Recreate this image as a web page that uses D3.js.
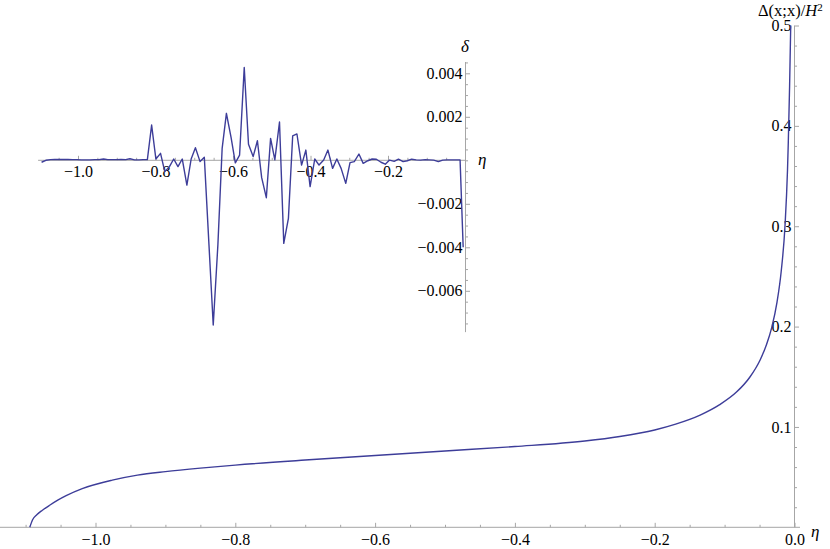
<!DOCTYPE html>
<html>
<head>
<meta charset="utf-8">
<script src="https://cdn.jsdelivr.net/npm/d3@7"></script>
<style>
  html, body { margin: 0; padding: 0; background: #fff; }
  svg { display: block; }
  text { font-family: "Liberation Serif", "Times New Roman", serif; fill: #000; }
</style>
</head>
<body>
<svg id="chart" width="830" height="549"></svg>
<script>
// ---------------- DATA ----------------
// Main curve: Δ(x;x)/H² vs η
const mainEta = [-1.094, -1.090, -1.084, -1.076, -1.065, -1.054, -1.042, -1.019, -0.976, -0.940, -0.900, -0.850, -0.800, -0.700, -0.600, -0.500, -0.400, -0.300, -0.250, -0.200, -0.170, -0.135, -0.107, -0.083, -0.064, -0.049, -0.040, -0.0326, -0.025, -0.019, -0.0136, -0.0100, -0.0089, -0.0070, -0.0054];
const mainVal = [0.000, 0.0075, 0.0125, 0.0170, 0.0222, 0.0270, 0.0315, 0.0385, 0.0470, 0.0520, 0.0555, 0.0590, 0.0620, 0.0670, 0.0715, 0.0760, 0.0805, 0.0860, 0.0905, 0.0970, 0.1028, 0.1118, 0.1222, 0.1347, 0.1495, 0.1670, 0.1821, 0.1990, 0.2244, 0.2551, 0.3003, 0.3560, 0.3830, 0.4400, 0.5000];

// Inset: δ vs η
const insetEta = [
  -1.094, -1.083, -1.071, -1.060, -1.048, -1.037, -1.026, -1.014, -1.003, -0.991,
  -0.980, -0.969, -0.957, -0.946, -0.934, -0.923, -0.911, -0.900, -0.889, -0.877,
  -0.866, -0.854, -0.843, -0.832, -0.821,
  -0.810, -0.799, -0.787, -0.776, -0.764, -0.753, -0.742, -0.731, -0.719, -0.708,
  -0.697, -0.685, -0.674, -0.662, -0.651, -0.639, -0.628, -0.617, -0.605, -0.594,
  -0.583, -0.571, -0.560, -0.548, -0.537, -0.526, -0.514, -0.503, -0.492, -0.480,
  -0.469, -0.457, -0.446, -0.435, -0.423, -0.412, -0.401, -0.389, -0.378, -0.366,
  -0.355, -0.343, -0.332, -0.321, -0.309, -0.298, -0.287, -0.275, -0.264, -0.252,
  -0.241, -0.230, -0.218, -0.207, -0.196, -0.184, -0.173, -0.161, -0.150, -0.139,
  -0.127, -0.116, -0.104, -0.093, -0.082, -0.070, -0.059, -0.048, -0.036, -0.025,
  -0.014, -0.006
];
const insetDelta = [
  -0.00009, 0.00000, 0.00003, 0.00004, 0.00004, 0.00004, 0.00004, 0.00003, 0.00003, 0.00002,
  0.00002, 0.00002, 0.00003, 0.00003, 0.00006, 0.00003, 0.00003, 0.00003, 0.00004, 0.00003,
  0.00007, 0.00002, 0.00002, 0.00003, 0.00003,
  0.00162, 0.00006, 0.00032, -0.00052, -0.00029, 0.00006, -0.00029, 0.00006, -0.00114, 0.00006,
  0.00058, -0.00006, 0.00014, -0.00389, -0.00757, -0.00389, 0.00055, 0.00216, 0.00105, -0.00012,
  0.00024, 0.00427, 0.00074, 0.00017, 0.00090, -0.00080, -0.00172, 0.00101, 0.00002, 0.00176,
  -0.00382, -0.00267, 0.00112, 0.00121, -0.00022, 0.00047, -0.00121, 0.00006, -0.00022, 0.00001,
  0.00047, -0.00037, 0.00006, -0.00037, -0.00106, -0.00011, -0.00006, 0.00029, -0.00014, -0.00002,
  0.00006, 0.00005, -0.00009, -0.00018, 0.00001, -0.00005, 0.00005, -0.00006, -0.00002, 0.00005,
  0.00002, 0.00001, 0.00003, 0.00002, 0.00001, -0.00006, 0.00001, 0.00002, 0.00002, 0.00002,
  0.00002, -0.00400
];

// Tick values / labels
const mainXMajor = [-1.0, -0.8, -0.6, -0.4, -0.2, 0.0];
const mainXLabels = ["−1.0", "−0.8", "−0.6", "−0.4", "−0.2", "0.0"];
const mainXMinor = [-1.1, -1.05, -0.95, -0.9, -0.85, -0.75, -0.7, -0.65, -0.55, -0.5, -0.45, -0.35, -0.3, -0.25, -0.15, -0.1, -0.05];
const mainYMajor = [0.1, 0.2, 0.3, 0.4, 0.5];
const mainYLabels = ["0.1", "0.2", "0.3", "0.4", "0.5"];
const mainYMinor = [0.02, 0.04, 0.06, 0.08, 0.12, 0.14, 0.16, 0.18, 0.22, 0.24, 0.26, 0.28, 0.32, 0.34, 0.36, 0.38, 0.42, 0.44, 0.46, 0.48];

const insetXMajor = [-1.0, -0.8, -0.6, -0.4, -0.2];
const insetXLabels = ["−1.0", "−0.8", "−0.6", "−0.4", "−0.2"];
const insetXMinor = [-1.05, -0.95, -0.9, -0.85, -0.75, -0.7, -0.65, -0.55, -0.5, -0.45, -0.35, -0.3, -0.25, -0.15, -0.1, -0.05];
const insetYMajor = [0.004, 0.002, -0.002, -0.004, -0.006];
const insetYLabels = ["0.004", "0.002", "−0.002", "−0.004", "−0.006"];
const insetYMinor = [0.0045, 0.0035, 0.003, 0.0025, 0.0015, 0.001, 0.0005, 0, -0.0005, -0.001, -0.0015, -0.0025, -0.003, -0.0035, -0.0045, -0.005, -0.0055, -0.0065, -0.007, -0.0075];

// ---------------- DRAW ----------------
const svg = d3.select("#chart");
const lineColor = "#3d3d99";
const axisColor = "#a6a6a6";
const fontSize = 16;
const serif = '"Liberation Serif", "Times New Roman", serif';

// Main scales
const x = d3.scaleLinear().domain([-1, 0]).range([95.5, 794.5]);
const y = d3.scaleLinear().domain([0, 0.5]).range([527.3, 25.5]);

// Inset scales
const xi = d3.scaleLinear().domain([-1, 0]).range([78, 465.5]);
const yi = d3.scaleLinear().domain([0.004, -0.004]).range([73.3, 247.3]);

function styleAxis(g) {
  g.attr("font-family", serif).attr("font-size", fontSize);
  g.selectAll("path.domain").remove();
  g.selectAll(".tick line").attr("stroke", axisColor).attr("stroke-width", 1);
  g.selectAll(".tick text").style("font-size", fontSize + "px").attr("fill", "#000").style("font-family", serif);
}

// ---- Main axes ----
const mainAxisY0 = y(0);
svg.append("line").attr("x1", 0).attr("x2", 800).attr("y1", mainAxisY0).attr("y2", mainAxisY0)
  .attr("stroke", axisColor).attr("stroke-width", 1);
svg.append("line").attr("x1", x(0)).attr("x2", x(0)).attr("y1", y(0)).attr("y2", y(0.5))
  .attr("stroke", axisColor).attr("stroke-width", 1);

svg.append("g").attr("transform", `translate(0,${mainAxisY0})`)
  .call(d3.axisBottom(x).tickValues(mainXMinor).tickSize(-2.5).tickFormat(""))
  .call(styleAxis);
svg.append("g").attr("transform", `translate(0,${mainAxisY0})`)
  .call(d3.axisBottom(x).tickValues(mainXMajor).tickSize(-4.5).tickPadding(6)
    .tickFormat((d, i) => mainXLabels[i]))
  .call(styleAxis);

svg.append("g").attr("transform", `translate(${x(0)},0)`)
  .call(d3.axisRight(y).tickValues(mainYMinor).tickSize(2.5).tickFormat(""))
  .call(styleAxis);
svg.append("g").attr("transform", `translate(${x(0)},0)`)
  .call(d3.axisRight(y).tickValues(mainYMajor).tickSize(4.5).tickFormat(""))
  .call(styleAxis);
svg.append("g").attr("transform", `translate(${x(0)},0)`)
  .call(d3.axisLeft(y).tickValues(mainYMajor).tickSize(0).tickPadding(3)
    .tickFormat((d, i) => mainYLabels[i]))
  .call(styleAxis);

// Axis labels
svg.append("text").attr("x", 811).attr("y", 537).style("font-size", "17px").style("font-style", "italic").text("η");
const yl = svg.append("text").attr("x", 758).attr("y", 16).style("font-size", "16.5px");
yl.append("tspan").text("Δ(x;x)/");
yl.append("tspan").style("font-style", "italic").text("H");
yl.append("tspan").attr("dy", -5).style("font-size", "11px").text("2");

// Main curve
svg.append("clipPath").attr("id", "mainClip").append("rect")
  .attr("x", 0).attr("y", y(0.5) - 1).attr("width", x(0) + 1).attr("height", y(0) - y(0.5) + 2);
const mainData = mainEta.map((e, i) => [e, mainVal[i]]);
svg.append("path").datum(mainData)
  .attr("clip-path", "url(#mainClip)")
  .attr("fill", "none").attr("stroke", lineColor).attr("stroke-width", 1.4)
  .attr("d", d3.line().x(d => x(d[0])).y(d => y(d[1])).curve(d3.curveMonotoneX));

// ---- Inset axes ----
const insetAxisY0 = yi(0);
svg.append("line").attr("x1", xi(-1.103)).attr("x2", xi(0)).attr("y1", insetAxisY0).attr("y2", insetAxisY0)
  .attr("stroke", axisColor).attr("stroke-width", 1);
svg.append("line").attr("x1", xi(0)).attr("x2", xi(0)).attr("y1", yi(0.00452)).attr("y2", yi(-0.0079))
  .attr("stroke", axisColor).attr("stroke-width", 1);

svg.append("g").attr("transform", `translate(0,${insetAxisY0})`)
  .call(d3.axisBottom(xi).tickValues(insetXMinor).tickSize(-2.5).tickFormat(""))
  .call(styleAxis);
svg.append("g").attr("transform", `translate(0,${insetAxisY0})`)
  .call(d3.axisBottom(xi).tickValues(insetXMajor).tickSize(-4.5).tickPadding(5)
    .tickFormat((d, i) => insetXLabels[i]))
  .call(styleAxis);

svg.append("g").attr("transform", `translate(${xi(0)},0)`)
  .call(d3.axisRight(yi).tickValues(insetYMinor).tickSize(2.5).tickFormat(""))
  .call(styleAxis);
svg.append("g").attr("transform", `translate(${xi(0)},0)`)
  .call(d3.axisRight(yi).tickValues(insetYMajor).tickSize(4.5).tickFormat(""))
  .call(styleAxis);
svg.append("g").attr("transform", `translate(${xi(0)},0)`)
  .call(d3.axisLeft(yi).tickValues(insetYMajor).tickSize(0).tickPadding(3)
    .tickFormat((d, i) => insetYLabels[i]))
  .call(styleAxis);

svg.append("text").attr("x", 478).attr("y", 165).style("font-size", "17px").style("font-style", "italic").text("η");
svg.append("text").attr("x", 465).attr("y", 52).attr("text-anchor", "middle").style("font-size", "17px").style("font-style", "italic").text("δ");

// Inset line
const insetData = insetEta.map((e, i) => [e, insetDelta[i]]);
svg.append("path").datum(insetData)
  .attr("fill", "none").attr("stroke", lineColor).attr("stroke-width", 1.4).attr("stroke-linejoin", "round")
  .attr("d", d3.line().x(d => xi(d[0])).y(d => yi(d[1])));
</script>
</body>
</html>
